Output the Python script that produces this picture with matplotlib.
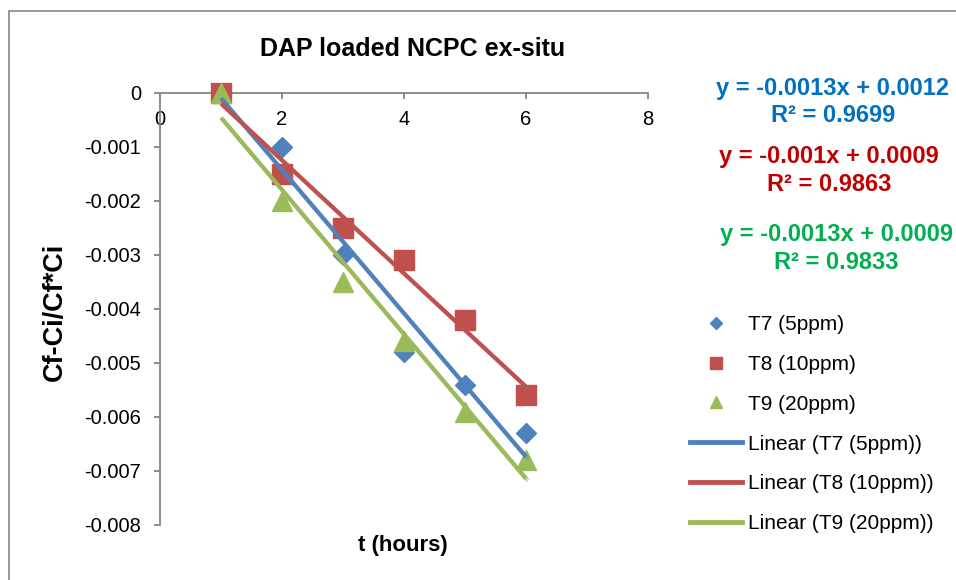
import matplotlib
matplotlib.use('Agg')
import matplotlib.pyplot as plt
import matplotlib.patheffects as pe
import matplotlib.ticker as ticker
from matplotlib.lines import Line2D
from matplotlib.patches import Rectangle
import numpy as np

plt.rcParams['font.family'] = ['Liberation Sans', 'DejaVu Sans']

# data
t_hours = [1, 2, 3, 4, 5, 6]
t7_vals = [0, -0.0010, -0.0030, -0.0048, -0.0054, -0.0063]
t8_vals = [0, -0.0015, -0.0025, -0.0031, -0.0042, -0.0056]
t9_vals = [0, -0.0020, -0.0035, -0.0046, -0.0059, -0.0068]
labels = ['T7 (5ppm)', 'T8 (10ppm)', 'T9 (20ppm)']
eq_text = ['y = -0.0013x + 0.0012\nR² = 0.9699',
           'y = -0.001x + 0.0009\nR² = 0.9863',
           'y = -0.0013x + 0.0009\nR² = 0.9833']
x_ticks = [0, 2, 4, 6, 8]
y_ticks = [0, -0.001, -0.002, -0.003, -0.004, -0.005, -0.006, -0.007, -0.008]

W, H = 956, 580
fig = plt.figure(figsize=(W / 100, H / 100), dpi=100)

def fx(px):
    return px / W

def fy(py):
    return 1 - py / H

# outer chart border (only top and left visible in the original)
fig.patches.append(Rectangle((fx(9), fy(700)), 2, fy(11) - fy(700), transform=fig.transFigure,
                             fill=False, edgecolor='#868686', linewidth=1.2))

ax = fig.add_axes([fx(160), fy(525), fx(648) - fx(160), fy(93) - fy(525)])

colors = ['#4F81BD', '#C0504D', '#9BBB59']
markers = ['D', 's', '^']
msizes = [10, 14, 14]
series = [t7_vals, t8_vals, t9_vals]

for vals, c, m, ms in zip(series, colors, markers, msizes):
    ax.plot(t_hours, vals, ls='none', marker=m, ms=ms, color=c, mec=c, zorder=3, clip_on=False)

# linear trendlines
x_arr = np.array(t_hours)
for vals, c in zip(series, colors):
    k, b = np.polyfit(x_arr, np.array(vals), 1)
    ax.plot(x_arr, k * x_arr + b, color=c, lw=3, zorder=4, solid_capstyle='butt',
            path_effects=[pe.SimpleLineShadow(offset=(1.5, -1.5), shadow_color='gray', alpha=0.35),
                          pe.Normal()])

ax.set_xlim(0, 8)
ax.set_ylim(-0.008, 0)
ax.set_xticks(x_ticks)
ax.set_yticks(y_ticks)
ax.yaxis.set_major_formatter(ticker.FuncFormatter(lambda v, p: '0' if abs(v) < 1e-12 else f'{v:.3f}'.replace('\u2212', '-')))

for s in ['top', 'right']:
    ax.spines[s].set_visible(False)
ax.spines['bottom'].set_position(('data', 0))
for s in ['bottom', 'left']:
    ax.spines[s].set_color('#868686')
    ax.spines[s].set_linewidth(1.3)
ax.tick_params(axis='both', direction='out', length=4.5, width=1.3, color='#868686', labelsize=14.5)
ax.tick_params(axis='x', pad=8)
ax.tick_params(axis='y', pad=9)

fig.text(fx(413), fy(49), 'DAP loaded NCPC ex-situ', ha='center', va='center', fontsize=18, fontweight='bold')
fig.text(fx(403), fy(545), 't (hours)', ha='center', va='center', fontsize=16, fontweight='bold')
fig.text(fx(55), fy(312), 'Cf-Ci/Cf*Ci', ha='center', va='center', rotation=90, fontsize=19.5, fontweight='bold')

# trendline equations
eq_colors = ['#0070C0', '#C00000', '#00B050']
eq_pos = [(833, 102), (829, 170.5), (836, 248.5)]
for txt, c, (px, py) in zip(eq_text, eq_colors, eq_pos):
    fig.text(fx(px), fy(py), txt, ha='center', va='center', color=c, fontsize=17,
             fontweight='bold', linespacing=1.25, multialignment='center')

handles = []
for c, m, ms, lab in zip(colors, markers, msizes, labels):
    handles.append(Line2D([], [], ls='none', marker=m, ms=ms * 0.62, color=c, label=lab))
for c, lab in zip(colors, labels):
    handles.append(Line2D([], [], color=c, lw=3.5, label=f'Linear ({lab})'))

fig.legend(handles=handles, loc='upper left', bbox_to_anchor=(fx(690), fy(315)),
           frameon=False, fontsize=15, handlelength=2.5, handletextpad=0.3,
           labelspacing=1.0, borderpad=0, borderaxespad=0)

fig.savefig('out.png', dpi=100)
